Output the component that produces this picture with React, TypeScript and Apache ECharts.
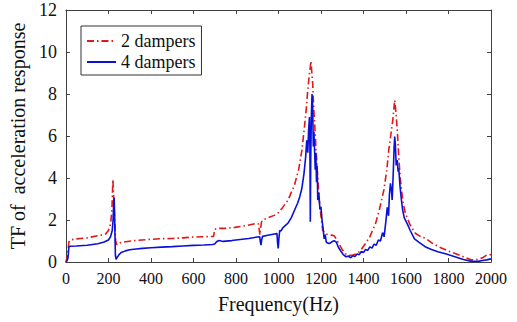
import React, { useEffect, useRef } from "react";
import * as echarts from "echarts";

const xTicks = [0, 200, 400, 600, 800, 1000, 1200, 1400, 1600, 1800, 2000];
const yTicks = [0, 2, 4, 6, 8, 10, 12];

const freq2 = [0, 8, 14, 20, 50, 100, 150, 187, 200, 210, 216, 219, 221, 223, 226, 230, 234, 240, 257, 290, 330, 400, 452, 500, 550, 600, 650, 695, 700, 710, 750, 795, 850, 895, 905, 910, 913, 916, 920, 927, 950, 980, 1000, 1020, 1045, 1075, 1095, 1110, 1122, 1130, 1138, 1145, 1150, 1153, 1157, 1161, 1166, 1172, 1177, 1185, 1192, 1200, 1208, 1220, 1235, 1250, 1262, 1272, 1285, 1300, 1315, 1330, 1350, 1372, 1390, 1410, 1430, 1457, 1475, 1496, 1510, 1519, 1528, 1538, 1543, 1547, 1552, 1559, 1566, 1574, 1585, 1597, 1620, 1644, 1670, 1691, 1720, 1753, 1790, 1831, 1870, 1909, 1940, 1960, 1979, 2000];
const val2 = [0, 0.3, 0.95, 1.05, 1.1, 1.15, 1.25, 1.33, 1.5, 1.8, 2.4, 3.2, 3.94, 3.5, 2.8, 2.0, 1.0, 0.82, 0.92, 0.98, 1.03, 1.08, 1.11, 1.12, 1.15, 1.19, 1.2, 1.22, 1.55, 1.6, 1.6, 1.65, 1.74, 1.84, 1.82, 1.5, 1.29, 1.6, 1.9, 2.0, 2.1, 2.22, 2.35, 2.6, 2.95, 3.65, 4.4, 5.3, 6.4, 7.2, 8.19, 8.9, 9.3, 9.57, 9.0, 8.5, 7.3, 6.3, 5.33, 4.0, 2.95, 2.2, 1.52, 1.35, 1.3, 1.28, 1.25, 1.1, 0.85, 0.6, 0.4, 0.3, 0.33, 0.41, 0.6, 0.89, 1.2, 1.84, 2.5, 3.43, 4.4, 5.33, 6.0, 6.76, 7.3, 7.71, 7.2, 6.29, 5.0, 3.9, 2.9, 2.32, 1.75, 1.37, 1.2, 1.13, 0.92, 0.73, 0.56, 0.41, 0.25, 0.1, 0.12, 0.2, 0.33, 0.35];

const freq4 = [0, 5, 10, 14, 20, 50, 100, 150, 180, 200, 210, 218, 222, 225, 227, 229, 231, 233, 236, 240, 250, 260, 280, 300, 330, 360, 400, 450, 500, 550, 600, 650, 690, 700, 710, 720, 740, 780, 820, 860, 900, 912, 915, 918, 921, 925, 950, 980, 993, 996, 999, 1002, 1006, 1012, 1020, 1030, 1045, 1060, 1075, 1090, 1100, 1110, 1120, 1128, 1133, 1138, 1142, 1146, 1148, 1150, 1152, 1155, 1158, 1161, 1164, 1167, 1170, 1173, 1176, 1179, 1182, 1185, 1190, 1195, 1200, 1205, 1210, 1215, 1220, 1225, 1232, 1240, 1250, 1262, 1272, 1282, 1295, 1305, 1318, 1330, 1340, 1350, 1360, 1370, 1380, 1390, 1400, 1410, 1420, 1430, 1440, 1450, 1460, 1470, 1480, 1490, 1497, 1505, 1512, 1518, 1522, 1527, 1532, 1535, 1540, 1544, 1547, 1550, 1554, 1559, 1563, 1566, 1572, 1578, 1584, 1592, 1605, 1620, 1640, 1660, 1690, 1720, 1750, 1790, 1830, 1870, 1910, 1940, 1960, 1980, 2000];
const val4 = [0, 0.05, 0.2, 0.72, 0.75, 0.76, 0.8, 0.87, 0.95, 1.05, 1.2, 1.5, 2.0, 2.8, 3.06, 2.3, 1.2, 0.3, 0.13, 0.2, 0.35, 0.45, 0.53, 0.58, 0.62, 0.65, 0.68, 0.71, 0.73, 0.76, 0.79, 0.81, 0.83, 0.86, 0.98, 1.02, 0.98, 1.02, 1.07, 1.12, 1.19, 1.2, 0.95, 0.8, 1.05, 1.22, 1.27, 1.33, 1.35, 0.9, 0.65, 1.1, 1.5, 1.48, 1.62, 1.72, 1.85, 2.1, 2.45, 2.8, 3.1, 3.5, 4.2, 5.0, 5.8, 5.2, 6.3, 6.9, 5.5, 1.92, 5.0, 7.0, 8.0, 7.4, 5.5, 6.2, 5.3, 4.4, 5.2, 3.8, 4.6, 2.95, 3.3, 2.5, 2.63, 2.0, 1.6, 1.1, 1.3, 0.95, 0.9, 0.88, 0.95, 1.02, 0.95, 0.7, 0.5, 0.35, 0.25, 0.28, 0.2, 0.3, 0.26, 0.38, 0.35, 0.5, 0.45, 0.6, 0.55, 0.72, 0.66, 0.85, 0.8, 1.05, 1.0, 1.4, 1.2, 1.9, 2.6, 2.2, 3.2, 3.75, 3.4, 2.95, 4.2, 5.4, 5.97, 5.6, 4.6, 4.86, 4.3, 4.46, 3.6, 3.0, 2.5, 2.1, 1.84, 1.5, 1.1, 0.95, 0.73, 0.6, 0.49, 0.38, 0.25, 0.12, 0.03, 0.03, 0.07, 0.1, 0.15];

const seriesNames = ["2 dampers", "4 dampers"];
const xLabel = "Frequency(Hz)";
const yLabel = "TF of  acceleration response";

const FONT = '"Liberation Serif", "Times New Roman", "DejaVu Serif", serif';
const AXIS_COLOR = "#404040";
const TEXT_COLOR = "#111";

export default function App() {
  const ref = useRef<HTMLDivElement>(null);
  useEffect(() => {
    if (!ref.current) return;
    const chart = echarts.init(ref.current, null, { renderer: "svg" });
    const zip = (xs: number[], ys: number[]) => xs.map((x, i) => [x, ys[i]]);
    const xMin = xTicks[0];
    const xMax = xTicks[xTicks.length - 1];
    const xInt = xTicks[1] - xTicks[0];
    const yMin = yTicks[0];
    const yMax = yTicks[yTicks.length - 1];
    const yInt = yTicks[1] - yTicks[0];
    const axisBase = {
      axisLine: { show: true, onZero: false, lineStyle: { color: AXIS_COLOR, width: 1 } },
      axisTick: { show: true, inside: true, length: 4, lineStyle: { color: AXIS_COLOR } },
      splitLine: { show: false },
    };
    const plain = (v: number) => String(v);
    chart.setOption({
      animation: false,
      backgroundColor: "#ffffff",
      grid: { left: 63, right: 26, top: 10, bottom: 60, containLabel: false },
      legend: {
        show: true,
        orient: "vertical",
        left: 81,
        top: 26,
        padding: [6, 6, 4, 5],
        borderColor: "#333",
        borderWidth: 1,
        itemWidth: 29,
        itemHeight: 14,
        itemGap: 3,
        itemStyle: { opacity: 0 },
        textStyle: { fontFamily: FONT, fontSize: 18, color: TEXT_COLOR },
        data: seriesNames,
      },
      xAxis: [
        {
          type: "value",
          min: xMin,
          max: xMax,
          interval: xInt,
          position: "bottom",
          ...axisBase,
          name: xLabel,
          nameLocation: "middle",
          nameGap: 32,
          nameTextStyle: { fontFamily: FONT, fontSize: 20, color: TEXT_COLOR },
          axisLabel: { fontFamily: FONT, fontSize: 16, color: TEXT_COLOR, margin: 8, formatter: plain },
        },
        {
          type: "value",
          min: xMin,
          max: xMax,
          interval: xInt,
          position: "top",
          ...axisBase,
          axisLabel: { show: false },
        },
      ],
      yAxis: [
        {
          type: "value",
          min: yMin,
          max: yMax,
          interval: yInt,
          position: "left",
          ...axisBase,
          name: yLabel,
          nameLocation: "middle",
          nameGap: 36,
          nameTextStyle: { fontFamily: FONT, fontSize: 20, color: TEXT_COLOR },
          axisLabel: { fontFamily: FONT, fontSize: 18, color: TEXT_COLOR, margin: 9, formatter: plain },
        },
        {
          type: "value",
          min: yMin,
          max: yMax,
          interval: yInt,
          position: "right",
          ...axisBase,
          axisLabel: { show: false },
        },
      ],
      series: [
        {
          name: seriesNames[0],
          type: "line",
          data: zip(freq2, val2),
          symbol: "none",
          lineStyle: { color: "#e01818", width: 1.6, type: [7, 3, 1.5, 3] },
          itemStyle: { color: "#e01818" },
          z: 2,
        },
        {
          name: seriesNames[1],
          type: "line",
          data: zip(freq4, val4),
          symbol: "none",
          lineStyle: { color: "#0a10d8", width: 1.6 },
          itemStyle: { color: "#0a10d8" },
          z: 3,
        },
      ],
    });
    return () => chart.dispose();
  }, []);
  return <div ref={ref} style={{ width: 517, height: 322, position: "absolute", left: 0, top: 0 }} />;
}
